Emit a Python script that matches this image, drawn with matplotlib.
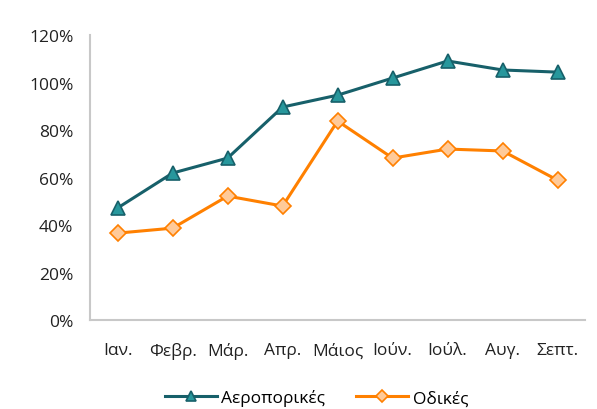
import matplotlib
matplotlib.use("Agg")
import matplotlib.pyplot as plt
from matplotlib.ticker import FuncFormatter

plt.rcParams['font.family'] = ['Open Sans', 'DejaVu Sans']

# month labels and the two series (as fractions of 1)
months = ["Ιαν.", "Φεβρ.", "Μάρ.", "Απρ.", "Μάιος", "Ιούν.", "Ιούλ.", "Αυγ.", "Σεπτ."]
air = [0.472, 0.619, 0.682, 0.897, 0.947, 1.019, 1.091, 1.053, 1.044]
road = [0.366, 0.387, 0.522, 0.480, 0.838, 0.682, 0.720, 0.712, 0.589]

fig = plt.figure(figsize=(5.97, 4.10), dpi=100)
ax = fig.add_axes([0.151, 0.217, 0.829, 0.695])

x = range(len(months))
ax.plot(x, air, color="#17606a", lw=2.2, marker="^", ms=9.5,
        markerfacecolor="#27979c", markeredgecolor="#17606a", markeredgewidth=1.2,
        label="Αεροπορικές")
ax.plot(x, road, color="#ff8000", lw=2.2, marker="D", ms=8,
        markerfacecolor="#ffca99", markeredgecolor="#ff8000", markeredgewidth=1.2,
        label="Οδικές")

ax.set_xlim(-0.5, len(months) - 0.5)
ax.set_ylim(0, 1.2)
ax.set_yticks([0, 0.2, 0.4, 0.6, 0.8, 1.0, 1.2])
ax.yaxis.set_major_formatter(FuncFormatter(lambda v, p: "{:.0f}%".format(v * 100)))
ax.set_xticks(list(x))
ax.set_xticklabels(months)

for s in ["top", "right"]:
    ax.spines[s].set_visible(False)
for s in ["left", "bottom"]:
    ax.spines[s].set_color("#c8c8c8")
    ax.spines[s].set_linewidth(1.5)
ax.tick_params(length=0, labelsize=12.5, colors="#222222")
ax.tick_params(axis="y", pad=12)
ax.tick_params(axis="x", pad=16)

fig.legend(loc="lower center", bbox_to_anchor=(0.53, -0.032), ncol=2, frameon=False,
           fontsize=12.5, handlelength=3.0, handletextpad=0.25, columnspacing=1.8,
           markerscale=0.75)

fig.savefig("out.png", dpi=100)
